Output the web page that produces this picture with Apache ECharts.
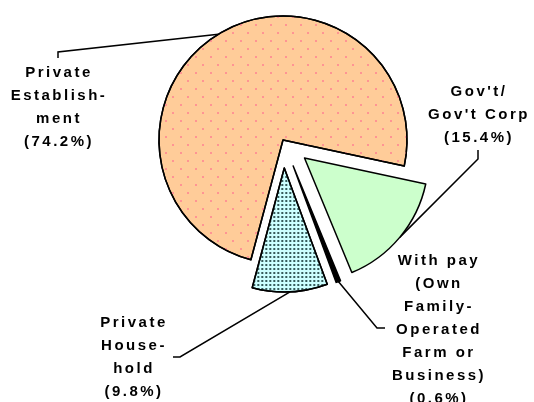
<!DOCTYPE html>
<html>
<head>
<meta charset="utf-8">
<script src="https://cdn.jsdelivr.net/npm/echarts@6/dist/echarts.min.js"></script>
<style>
  html, body { margin: 0; padding: 0; background: #fff; }
  #chart { width: 534px; height: 402px; }
</style>
</head>
<body>
<div id="chart"></div>
<script>
const categories = [
  "Private Establishment",
  "Gov't/Gov't Corp",
  "With pay (Own Family-Operated Farm or Business)",
  "Private Household"
];
const shares = [74.2, 15.4, 0.6, 9.8];
const labelText = [
  ["Private", "Establish-", "ment"],
  ["Gov't/", "Gov't Corp"],
  ["With pay", "(Own", "Family-", "Operated", "Farm or", "Business)"],
  ["Private", "House-", "hold"]
];
const exploded = [false, true, true, true];

// slice look
const fills = ["#ffcc99", "#ccffcc", "#000000", "#ccffff"];
const decals = [
  { symbol: "rect", symbolSize: 1, color: "#ff9494", dashArrayX: [[2, 13], [0, 7, 2, 6]], dashArrayY: [2, 6] },
  null,
  null,
  { symbol: "rect", symbolSize: 1, color: "#355a5a", dashArrayX: [2, 1.3], dashArrayY: [2, 1.3] }
];

// where each label block sits and how its leader bends (px)
const labelSpots = [
  { x: 59, y: 107, bend: [58, 52], end: [58, 58] },
  { x: 479, y: 115, bend: [478, 159], end: [478, 150] },
  { x: 439, y: 330, bend: [377, 328], end: [385, 328] },
  { x: 134, y: 357, bend: [180, 357], end: [173, 357] }
];

const pieCenter = [283, 140];
const pieRadius = 124;
const explodeBy = 28;

const chart = echarts.init(document.querySelector("#chart"), null, { renderer: "canvas" });

function baseSeries() {
  return {
    type: "pie",
    center: pieCenter,
    radius: [0, pieRadius],
    startAngle: 255,
    clockwise: true,
    silent: true,
    avoidLabelOverlap: false
  };
}

// labels sit on a see-through copy of the pie, so labelLayout is not undone by the select state
function leaderAnchor(point, i) {
  if (!exploded[i]) return point;
  const dx = point[0] - pieCenter[0];
  const dy = point[1] - pieCenter[1];
  const len = Math.hypot(dx, dy) || 1;
  return [point[0] + dx / len * explodeBy, point[1] + dy / len * explodeBy];
}

const option = {
  animation: false,
  backgroundColor: "#fff",
  series: [
    Object.assign(baseSeries(), {
      name: "slices",
      selectedMode: "multiple",
      selectedOffset: explodeBy,
      label: { show: false },
      labelLine: { show: false },
      data: categories.map((name, i) => ({
        name,
        value: shares[i],
        selected: exploded[i],
        itemStyle: Object.assign(
          { color: fills[i], borderColor: "#000", borderWidth: 1.5 },
          decals[i] ? { decal: decals[i] } : {}
        )
      }))
    }),
    Object.assign(baseSeries(), {
      name: "labels",
      itemStyle: { color: "transparent", borderWidth: 0 },
      data: categories.map((name, i) => ({ name, value: shares[i] })),
      label: {
        show: true,
        position: "outside",
        color: "#000",
        fontFamily: "Liberation Sans, Arial, sans-serif",
        fontWeight: "bold",
        fontSize: 15,
        lineHeight: 23,
        align: "center",
        formatter: (p) => labelText[p.dataIndex].concat(`(${p.value.toFixed(1)}%)`).join("\n")
      },
      labelLine: {
        show: true,
        length: 10,
        length2: 10,
        lineStyle: { color: "#000", width: 1.5 }
      },
      labelLayout: (params) => {
        const spot = labelSpots[params.dataIndex];
        const out = { x: spot.x, y: spot.y, align: "center", verticalAlign: "middle" };
        if (params.labelLinePoints) {
          out.labelLinePoints = [leaderAnchor(params.labelLinePoints[0], params.dataIndex), spot.bend, spot.end];
        }
        return out;
      }
    })
  ]
};

chart.setOption(option);

// old spreadsheet labels are spaced out; the canvas exists only after the first paint
const canvas = document.querySelector("#chart canvas");
if (canvas) {
  canvas.getContext("2d").letterSpacing = "2.5px";
  chart.setOption(option, true);
}
</script>
</body>
</html>
